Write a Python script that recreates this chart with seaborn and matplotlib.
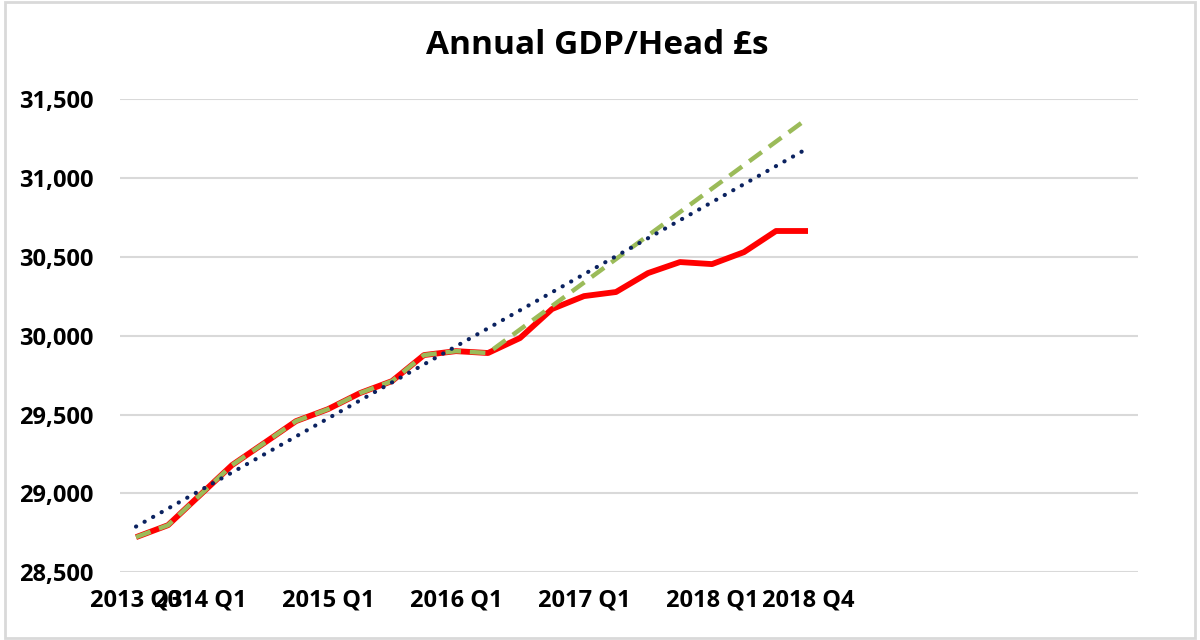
import numpy as np
import pandas as pd
import matplotlib.pyplot as plt
import seaborn as sns
from matplotlib.patches import Rectangle
from matplotlib.ticker import FuncFormatter

# quarterly data, 2013 Q3 .. 2018 Q4
quarters = ["2013 Q3", "2013 Q4",
            "2014 Q1", "2014 Q2", "2014 Q3", "2014 Q4",
            "2015 Q1", "2015 Q2", "2015 Q3", "2015 Q4",
            "2016 Q1", "2016 Q2", "2016 Q3", "2016 Q4",
            "2017 Q1", "2017 Q2", "2017 Q3", "2017 Q4",
            "2018 Q1", "2018 Q2", "2018 Q3", "2018 Q4"]
gdp_head = [28722, 28798, 28989, 29179, 29318, 29458, 29534, 29636, 29712, 29877,
            29902, 29890, 29985, 30169, 30251, 30277, 30397, 30467, 30454, 30530,
            30664, 30664]
# pre-referendum path carried on from 2016 Q2
projection = [29890, 30039, 30188, 30337, 30486, 30635, 30784, 30933, 31082, 31231, 31380]
shown_ticks = ["2013 Q3", "2014 Q1", "2015 Q1", "2016 Q1", "2017 Q1", "2018 Q1", "2018 Q4"]

sns.set_style("white")
plt.rcParams['font.family'] = ['Open Sans', 'DejaVu Sans']
plt.rcParams['text.color'] = 'black'
plt.rcParams['xtick.color'] = 'black'
plt.rcParams['ytick.color'] = 'black'

df = pd.DataFrame({'pos': np.arange(len(quarters)), 'quarter': quarters, 'gdp': gdp_head})

# linear trend (Excel style) fitted on data up to 2016 Q2, extended to the end
n_pre = quarters.index("2016 Q2") + 1
coef = np.polyfit(df['pos'][:n_pre], df['gdp'][:n_pre], 1)
df['trend'] = np.polyval(coef, df['pos'])

proj = pd.DataFrame({'pos': df['pos'][n_pre - 1:].values, 'gdp': projection})
pre = df.iloc[:n_pre]

fig = plt.figure(figsize=(12, 6.4), dpi=100)
ax = fig.add_axes([0.1, 0.106, 0.848, 0.739])

sns.lineplot(data=df, x='pos', y='gdp', color='#FF0000', linewidth=4.2,
             solid_capstyle='butt', ax=ax, zorder=3)
sns.lineplot(data=pd.concat([pre[['pos', 'gdp']], proj.iloc[1:]]), x='pos', y='gdp',
             color='#9BBB59', linewidth=3.2, linestyle=(0, (3.5, 2)), ax=ax, zorder=4)
sns.lineplot(data=df, x='pos', y='trend', color='#0B2260', linewidth=3,
             linestyle=(0, (0.05, 2.3)), dash_capstyle='round', ax=ax, zorder=5)

ax.set_xlim(-0.5, 31.3)
ax.set_ylim(28500, 31500)
ax.set_yticks(np.arange(28500, 31501, 500))
ax.yaxis.set_major_formatter(FuncFormatter(lambda v, p: f"{v:,.0f}"))
ax.set_xticks([quarters.index(q) for q in shown_ticks])
ax.set_xticklabels(shown_ticks)
ax.grid(axis='y', color='#D9D9D9', linewidth=1.5)
ax.grid(axis='x', visible=False)
ax.set_axisbelow(True)
sns.despine(ax=ax, left=True, bottom=True)
ax.tick_params(axis='both', length=0, labelsize=17, labelcolor='black')
ax.tick_params(axis='y', pad=19)
ax.tick_params(axis='x', pad=12)
for lab in ax.get_xticklabels() + ax.get_yticklabels():
    lab.set_fontweight('bold')
ax.set_xlabel('')
ax.set_ylabel('')

fig.text(0.498, 0.929, 'Annual GDP/Head £s', ha='center', va='center',
         fontsize=24, fontweight='bold', color='black')
fig.add_artist(Rectangle((5 / 1200, 2 / 640), 1190 / 1200, 636 / 640,
                         transform=fig.transFigure, fill=False,
                         edgecolor='#D9D9D9', linewidth=2))

fig.savefig('out.png', dpi=100)
